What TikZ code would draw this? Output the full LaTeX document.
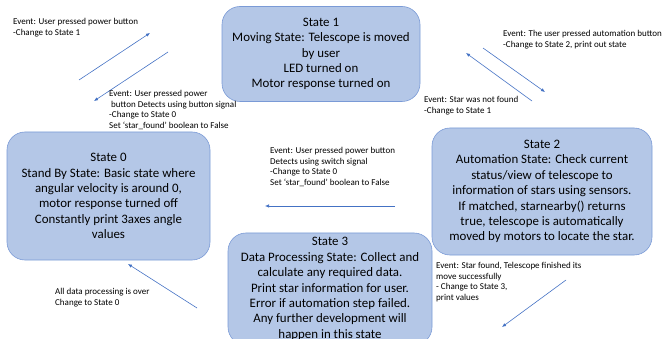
\documentclass[tikz,border=0pt]{standalone}
\usepackage{fontspec}
\setmainfont{Carlito}
\usetikzlibrary{arrows.meta}

\definecolor{statefill}{HTML}{B4C7E7}
\definecolor{stateline}{HTML}{7A9AD6}
\definecolor{flowblue}{HTML}{4472C4}

\begin{document}
\begin{tikzpicture}[x=1pt, y=-1pt,
    state/.style={draw=stateline, fill=statefill, line width=0.6pt, rounded corners=18pt,
      align=center, inner sep=0pt, font=\fontsize{12.9}{15.4}\selectfont},
    event/.style={anchor=north west, align=left, inner sep=0pt, font=\fontsize{9}{10.4}\selectfont},
    flow/.style={draw=flowblue, line width=0.6pt, -{Latex[length=4pt,width=3.4pt]}}]
    \useasboundingbox (0,0) rectangle (664,339);
    \clip (0,0) rectangle (664,339);

    % the four states
    \node[state, minimum width=198pt, minimum height=95pt] (s1) at (321,54)
      {State 1\\Moving State: Telescope is moved\\by user\\LED turned on\\Motor response turned on};
    \node[state, minimum width=203pt, minimum height=128pt] (s0) at (108.5,196)
      {State 0\\Stand By State: Basic state where\\angular velocity is around 0,\\motor response turned off\\Constantly print 3axes angle\\values};
    \node[state, minimum width=220pt, minimum height=127pt] (s2) at (542,191.5)
      {State 2\\Automation State: Check current\\status/view of telescope to\\information of stars using sensors.\\If matched, starnearby() returns\\true, telescope is automatically\\moved by motors to locate the star.};
    \node[state, minimum width=204pt, minimum height=112pt] (s3) at (330,289)
      {State 3\\Data Processing State: Collect and\\calculate any required data.\\Print star information for user.\\Error if automation step failed.\\Any further development will\\happen in this state};

    % transitions
    \coordinate (from0) at (79,80);     \coordinate (to1) at (150,33);
    \coordinate (from1) at (168,52);    \coordinate (to0) at (94,101);
    \coordinate (from1b) at (483,48);   \coordinate (to2) at (545,92);
    \coordinate (from2) at (532,101);   \coordinate (to1b) at (466,53);
    \coordinate (from2b) at (395,206);  \coordinate (to0b) at (265,206);
    \coordinate (from3) at (197,308);   \coordinate (to0c) at (128,264);
    \coordinate (from2c) at (566,280);  \coordinate (to3) at (502,327);
    \draw[flow] (from0) -- (to1);
    \draw[flow] (from1) -- (to0);
    \draw[flow] (from1b) -- (to2);
    \draw[flow] (from2) -- (to1b);
    \draw[flow] (from2b) -- (to0b);
    \draw[flow] (from3) -- (to0c);
    \draw[flow] (from2c) -- (to3);

    % events
    \node[event] (e01) at (13,18.5) {Event: User pressed power button\\-Change to State 1};
    \node[event] (e10) at (109,90.5) {Event: User pressed power\\\ button Detects using button signal\\-Change to State 0\\Set `star\_found' boolean to False};
    \node[event] (e12) at (503,30.5) {Event: The user pressed automation button\\-Change to State 2, print out state};
    \node[event] (e21) at (424,96.5) {Event: Star was not found\\-Change to State 1};
    \node[event] (e20) at (270,147.5) {Event: User pressed power button\\Detects using switch signal\\-Change to State 0\\Set `star\_found' boolean to False};
    \node[event] (e30) at (55,288.5) {All data processing is over\\Change to State 0};
    \node[event] (e23) at (436,262.5) {Event: Star found, Telescope finished its\\move successfully\\- Change to State 3,\\print values};
\end{tikzpicture}
\end{document}
